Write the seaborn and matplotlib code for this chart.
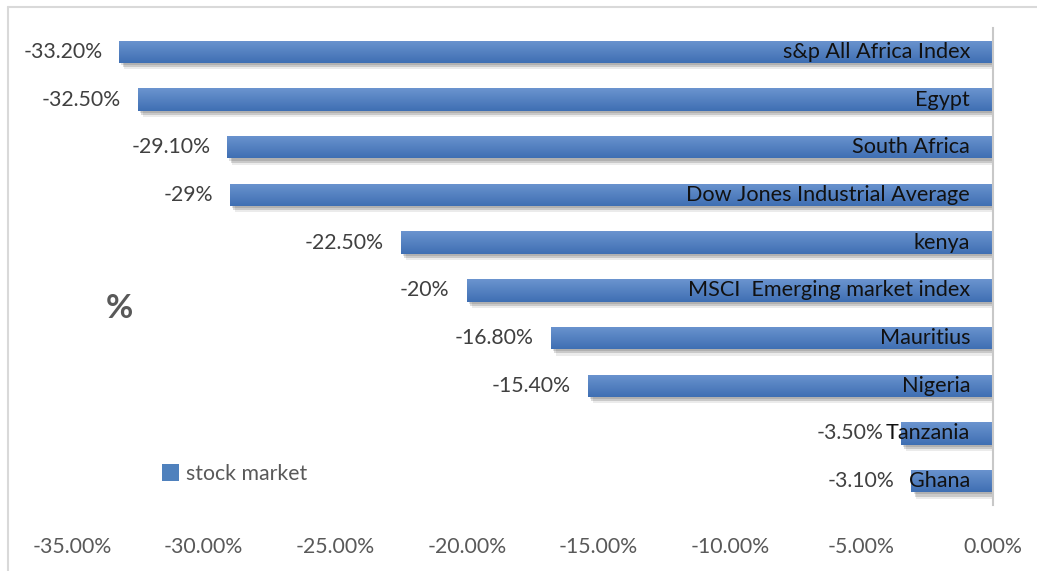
import matplotlib
matplotlib.use("Agg")
import matplotlib.pyplot as plt
import matplotlib.patheffects as pe
import seaborn as sns
import numpy as np
import pandas as pd
from matplotlib.lines import Line2D
from matplotlib.patches import Rectangle
from matplotlib.colors import LinearSegmentedColormap

categories = ["s&p All Africa Index", "Egypt", "South Africa", "Dow Jones Industrial Average",
              "kenya", "MSCI  Emerging market index", "Mauritius", "Nigeria", "Tanzania", "Ghana"]
values = [-33.2, -32.5, -29.1, -29.0, -22.5, -20.0, -16.8, -15.4, -3.5, -3.1]
value_labels = ["-33.20%", "-32.50%", "-29.10%", "-29%", "-22.50%", "-20%", "-16.80%", "-15.40%", "-3.50%", "-3.10%"]
xticks = [-35, -30, -25, -20, -15, -10, -5, 0]
xtick_labels = ["-35.00%", "-30.00%", "-25.00%", "-20.00%", "-15.00%", "-10.00%", "-5.00%", "0.00%"]
series_name = "stock market"

sns.set_theme(style="white")
plt.rcParams['font.family'] = ['Lato', 'DejaVu Sans']

df = pd.DataFrame({"category": categories, "value": values})

fig = plt.figure(figsize=(10.37, 5.71), dpi=100)
ax = fig.add_axes([72/1037, 1-505/571, (993-72)/1037, (505-28)/571])

bar_color = "#4f81bd"
sns.barplot(data=df, x="value", y="category", orient="h", color=bar_color,
            width=0.47, saturation=1, ax=ax, order=categories)

ax.set_xlim(-35, 0)
ax.set_ylim(9.5, -0.5)

grad_cmap = LinearSegmentedColormap.from_list("g", ["#6b94cf", "#3f6fb3"])
grad = np.linspace(0, 1, 64).reshape(-1, 1)
for p in list(ax.patches):
    p.set_edgecolor("none")
    p.set_path_effects([
        pe.SimplePatchShadow(offset=(1.5, -1.5), shadow_rgbFace="#000000", alpha=0.12),
        pe.SimplePatchShadow(offset=(2.5, -3.0), shadow_rgbFace="#000000", alpha=0.14),
        pe.SimplePatchShadow(offset=(3.5, -4.5), shadow_rgbFace="#000000", alpha=0.08),
        pe.Normal()])
    x0, y0 = p.get_x(), p.get_y()
    w, h = p.get_width(), p.get_height()
    im = ax.imshow(grad, cmap=grad_cmap, aspect="auto",
                   extent=[x0, x0 + w, y0 + h, y0], origin="upper",
                   zorder=p.get_zorder() + 0.1, interpolation="bilinear")
    im.set_clip_path(p)

ax.set_xlim(-35, 0)
ax.set_ylim(9.5, -0.5)

fs = 15.3
for i, (v, lab, cat) in enumerate(zip(values, value_labels, categories)):
    ax.text(v - 0.65, i, lab, ha="right", va="center", fontsize=fs, color="#404040", zorder=5)
    ax.text(-0.87, i, cat, ha="right", va="center", fontsize=15.6, color="#111111", zorder=5)

ax.set_xticks(xticks)
ax.set_xticklabels(xtick_labels, fontsize=fs, color="#595959")
ax.tick_params(axis="x", length=0, pad=23)
ax.set_yticks([])
ax.set_xlabel("")
ax.set_ylabel("")
for s in ["left", "top", "bottom"]:
    ax.spines[s].set_visible(False)
ax.spines["right"].set_visible(True)
ax.spines["right"].set_color("#c8c8c8")
ax.spines["right"].set_linewidth(1.5)

# "%" label
fig.text(119/1037, 1-308/571, "%", fontsize=24, fontweight="bold", color="#595959",
         ha="center", va="center")

# legend
handle = Rectangle((0, 0), 1, 1, facecolor=bar_color, edgecolor="none")
fig.legend([handle], [series_name], loc="center left", bbox_to_anchor=(143/1037, 1-474/571),
           frameon=False, fontsize=fs, labelcolor="#595959", handlelength=0.8,
           handleheight=0.8, handletextpad=0.3)

# outer border
fig.add_artist(Line2D([8/1037, 8/1037], [0, 1-7/571], transform=fig.transFigure,
                      color="#d9d9d9", lw=1.5))
fig.add_artist(Line2D([8/1037, 1], [1-7/571, 1-7/571], transform=fig.transFigure,
                      color="#d9d9d9", lw=1.5))

fig.savefig("out.png", dpi=100)
